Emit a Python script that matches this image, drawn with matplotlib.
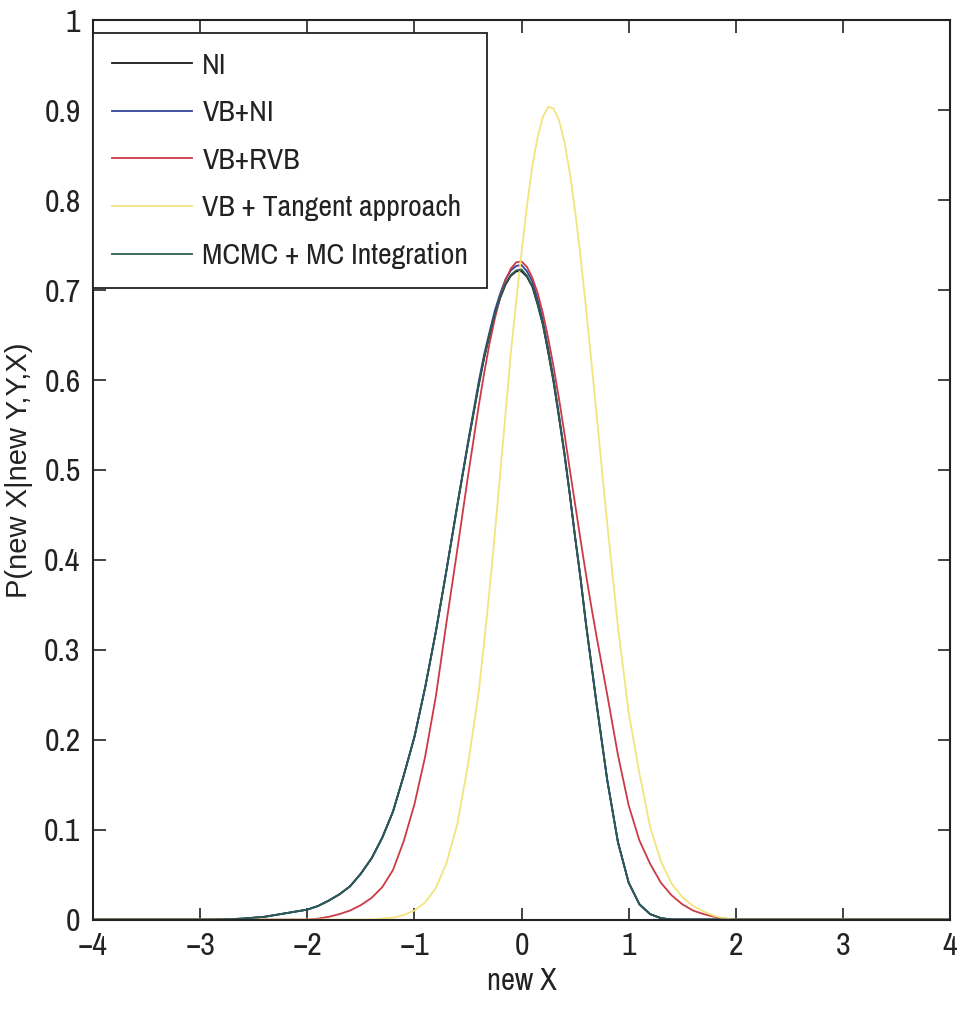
import matplotlib
matplotlib.use("Agg")
import matplotlib.pyplot as plt

# values
x = [-4.0, -3.0, -2.9, -2.8, -2.7, -2.6, -2.5, -2.4, -2.3, -2.2, -2.1,
     -2.0, -1.9, -1.8, -1.7, -1.6, -1.5, -1.4, -1.3, -1.2, -1.1,
     -1.0, -0.9, -0.8, -0.7, -0.6, -0.5,
     -0.4, -0.35, -0.3, -0.25, -0.2, -0.15, -0.1, -0.05, 0.0, 0.05, 0.1, 0.15,
     0.2, 0.25, 0.3, 0.35, 0.4, 0.45, 0.5, 0.55, 0.6, 0.65, 0.7,
     0.8, 0.9, 1.0, 1.1, 1.2, 1.3, 1.4, 1.5, 1.6, 1.7, 1.8, 1.9, 2.0, 3.0, 4.0]

ni = [0, 0, 0, 0.0002, 0.0005, 0.001, 0.002, 0.003, 0.005, 0.007, 0.009,
      0.011, 0.015, 0.021, 0.028, 0.037, 0.051, 0.068, 0.091, 0.120, 0.160,
      0.203, 0.258, 0.320, 0.389, 0.460, 0.529,
      0.594, 0.624, 0.649, 0.672, 0.691, 0.706, 0.716, 0.721, 0.721, 0.715, 0.704, 0.684,
      0.661, 0.630, 0.597, 0.558, 0.518, 0.473, 0.425, 0.380, 0.330, 0.285, 0.240,
      0.155, 0.086, 0.041, 0.017, 0.006, 0.0015, 0, 0, 0, 0, 0, 0, 0, 0, 0]

vb_ni = [0, 0, 0, 0.0002, 0.0005, 0.001, 0.002, 0.003, 0.005, 0.007, 0.009,
         0.011, 0.015, 0.021, 0.028, 0.037, 0.051, 0.068, 0.091, 0.120, 0.160,
         0.203, 0.258, 0.320, 0.389, 0.461, 0.531,
         0.598, 0.628, 0.653, 0.677, 0.696, 0.712, 0.722, 0.727, 0.728, 0.721, 0.710, 0.690,
         0.666, 0.635, 0.601, 0.561, 0.520, 0.474, 0.426, 0.381, 0.331, 0.286, 0.241,
         0.155, 0.086, 0.041, 0.017, 0.006, 0.0015, 0, 0, 0, 0, 0, 0, 0, 0, 0]

vb_rvb = [0, 0, 0, 0, 0, 0, 0, 0, 0, 0, 0,
          0, 0.001, 0.003, 0.006, 0.010, 0.016, 0.024, 0.036, 0.055, 0.087,
          0.128, 0.181, 0.248, 0.331, 0.411, 0.493,
          0.571, 0.607, 0.640, 0.668, 0.692, 0.711, 0.724, 0.731, 0.732, 0.726, 0.714, 0.697,
          0.674, 0.646, 0.614, 0.579, 0.541, 0.501, 0.462, 0.423, 0.385, 0.349, 0.315,
          0.250, 0.183, 0.127, 0.088, 0.062, 0.041, 0.027, 0.017, 0.010, 0.006, 0.003, 0.001, 0, 0, 0]

vb_tangent = [0, 0, 0, 0, 0, 0, 0, 0, 0, 0, 0,
              0, 0, 0, 0, 0, 0, 0, 0.001, 0.002, 0.005,
              0.010, 0.019, 0.035, 0.063, 0.106, 0.172,
              0.253, 0.307, 0.365, 0.428, 0.495, 0.562, 0.630, 0.688, 0.742, 0.793, 0.838, 0.870,
              0.893, 0.904, 0.902, 0.889, 0.865, 0.831, 0.788, 0.738, 0.682, 0.623, 0.562,
              0.440, 0.326, 0.230, 0.163, 0.103, 0.065, 0.040, 0.025, 0.015, 0.009, 0.004, 0.001, 0, 0, 0]

mcmc = [0, 0, 0, 0.0002, 0.0005, 0.001, 0.002, 0.003, 0.005, 0.007, 0.009,
        0.011, 0.015, 0.021, 0.028, 0.037, 0.051, 0.068, 0.091, 0.120, 0.160,
        0.203, 0.258, 0.320, 0.389, 0.460, 0.529,
        0.595, 0.625, 0.650, 0.673, 0.692, 0.707, 0.717, 0.722, 0.723, 0.716, 0.705, 0.685,
        0.662, 0.631, 0.598, 0.559, 0.518, 0.473, 0.425, 0.380, 0.330, 0.285, 0.240,
        0.155, 0.086, 0.041, 0.017, 0.006, 0.0015, 0, 0, 0, 0, 0, 0, 0, 0, 0]

labels = ["NI", "VB+NI", "VB+RVB", "VB + Tangent approach", "MCMC + MC Integration"]
colors = ["#1a1a1a", "#34449a", "#cc3a46", "#f3e47e", "#2a5c52"]
xticks = [-4, -3, -2, -1, 0, 1, 2, 3, 4]
yticks = [0, 0.1, 0.2, 0.3, 0.4, 0.5, 0.6, 0.7, 0.8, 0.9, 1]
yticklabels = ["0", "0.1", "0.2", "0.3", "0.4", "0.5", "0.6", "0.7", "0.8", "0.9", "1"]

plt.rcParams['font.family'] = ['Archivo Narrow', 'Liberation Sans', 'DejaVu Sans']

fig = plt.figure(figsize=(9.61, 10.09), dpi=100)
ax = fig.add_axes([0.0968, 0.0887, 0.8918, 0.891])

for ys, lab, c in zip([ni, vb_ni, vb_rvb, vb_tangent, mcmc], labels, colors):
    ax.plot(x, ys, color=c, lw=1.3, label=lab)

ax.set_xlim(-4, 4)
ax.set_ylim(0, 1)
ax.set_xticks(xticks)
ax.set_yticks(yticks)
ax.set_yticklabels(yticklabels)
ax.tick_params(direction="in", length=9, width=1.2, top=True, right=True,
               labelsize=23, colors="#222222", pad=9)
for s in ax.spines.values():
    s.set_linewidth(1.5)
    s.set_color("#222222")

ax.set_xlabel("new X", fontsize=22, labelpad=5, color="#222222")
ax.set_ylabel("P(new X|new Y,Y,X)", fontsize=21, family=['Liberation Sans', 'DejaVu Sans'],
              labelpad=8, color="#222222")

leg = ax.legend(loc="upper left", bbox_to_anchor=(0, 0.986), borderaxespad=0,
                fontsize=21.5, handlelength=2.7, handletextpad=0.34, labelspacing=0.69,
                borderpad=0.62, fancybox=False, framealpha=1, edgecolor="#222222")
leg.get_frame().set_linewidth(1.3)
for t in leg.get_texts():
    t.set_color("#222222")

fig.savefig("out.png", dpi=100)
